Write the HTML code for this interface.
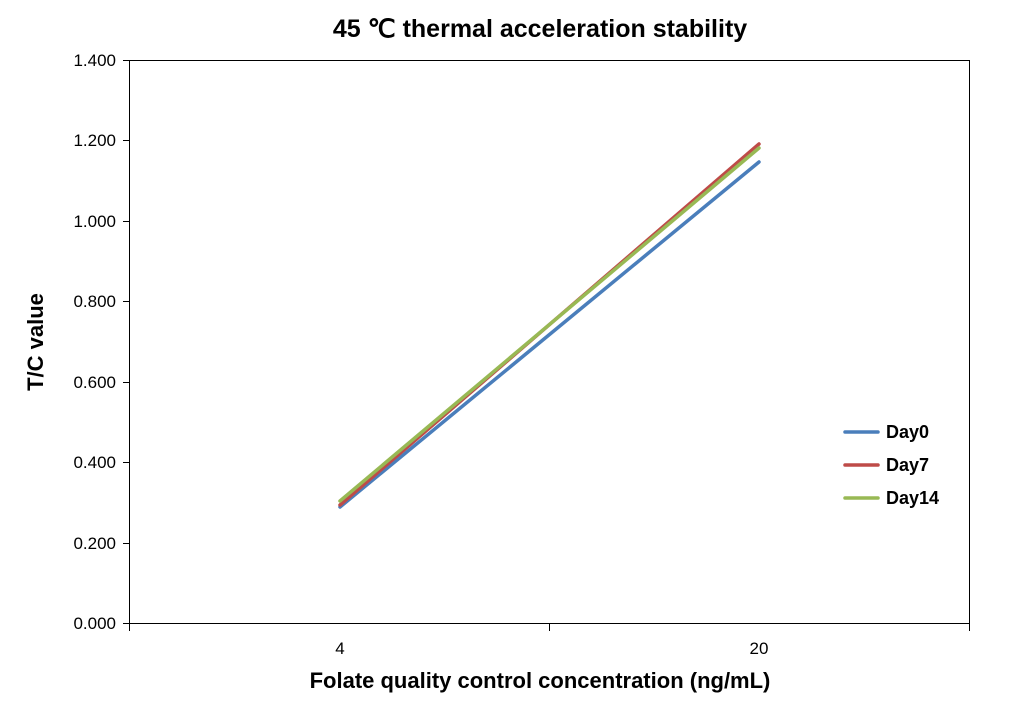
<!DOCTYPE html>
<html><head><style>body{margin:0;background:#fff}</style></head><body>
<svg width="1014" height="704" xmlns="http://www.w3.org/2000/svg" font-family="'Liberation Sans', sans-serif">
<rect width="1014" height="704" fill="#fff"/>
<text x="540" y="37" font-size="25" font-weight="bold" text-anchor="middle" fill="#000">45 ℃ thermal acceleration stability</text>
<rect x="129.5" y="60.5" width="840" height="563" fill="none" stroke="#000" stroke-width="1"/>
<g stroke="#000" stroke-width="1">
<line x1="123" y1="60.5" x2="129" y2="60.5"/><line x1="123" y1="140.5" x2="129" y2="140.5"/><line x1="123" y1="221.5" x2="129" y2="221.5"/><line x1="123" y1="301.5" x2="129" y2="301.5"/><line x1="123" y1="382.5" x2="129" y2="382.5"/><line x1="123" y1="462.5" x2="129" y2="462.5"/><line x1="123" y1="543.5" x2="129" y2="543.5"/><line x1="123" y1="623.5" x2="129" y2="623.5"/>
<line x1="129.5" y1="623" x2="129.5" y2="631"/><line x1="549.5" y1="623" x2="549.5" y2="631"/><line x1="969.5" y1="623" x2="969.5" y2="631"/>
</g>
<g font-size="17" text-anchor="end" fill="#000">
<text x="116" y="66">1.400</text><text x="116" y="146">1.200</text><text x="116" y="227">1.000</text><text x="116" y="307">0.800</text><text x="116" y="388">0.600</text><text x="116" y="468">0.400</text><text x="116" y="549">0.200</text><text x="116" y="629">0.000</text>
</g>
<g font-size="17" text-anchor="middle"><text x="340" y="654">4</text><text x="759" y="654">20</text></g>
<text x="540" y="688" font-size="22" font-weight="bold" text-anchor="middle">Folate quality control concentration (ng/mL)</text>
<text transform="translate(43,342) rotate(-90)" font-size="22" font-weight="bold" text-anchor="middle">T/C value</text>
<g stroke-width="3.5" stroke-linecap="round">
<line x1="340" y1="507" x2="759" y2="162" stroke="#4a7ebb"/>
<line x1="340" y1="505" x2="759" y2="144" stroke="#be4b48"/>
<line x1="340" y1="501" x2="759" y2="148" stroke="#98b954"/>
<line x1="845" y1="432" x2="878" y2="432" stroke="#4a7ebb"/>
<line x1="845" y1="465" x2="878" y2="465" stroke="#be4b48"/>
<line x1="845" y1="498" x2="878" y2="498" stroke="#98b954"/>
</g>
<g font-size="18" font-weight="bold"><text x="886" y="438">Day0</text><text x="886" y="471">Day7</text><text x="886" y="504">Day14</text></g>
</svg>
</body></html>
